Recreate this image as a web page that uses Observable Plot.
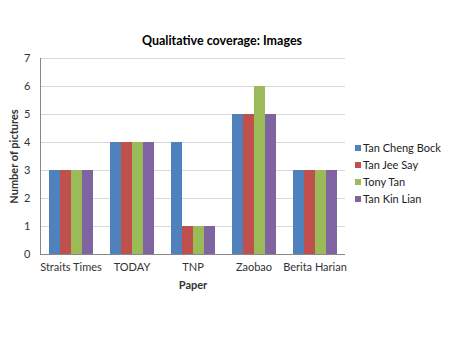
<!DOCTYPE html>
<html>
<head>
<meta charset="utf-8">
<script src="https://cdn.jsdelivr.net/npm/d3@7"></script>
<script src="https://cdn.jsdelivr.net/npm/@observablehq/plot@0.6"></script>
<style>
  body { margin: 0; background: #fff; font-family: Lato, "Open Sans", sans-serif; }
  #wrap { position: relative; width: 450px; height: 337px; overflow: hidden; }
  #title { position: absolute; top: 33px; left: 0; width: 444px; text-align: center; font-weight: bold; font-size: 12.5px; color: #000; }
  #chart { position: absolute; top: 50px; left: 0; }
  #legend { position: absolute; left: 355px; top: 139px; font-size: 11px; color: #222; }
  #legend .row { display: flex; align-items: center; height: 17px; }
  #legend .sw { width: 6px; height: 6px; margin-right: 2px; }
  svg text { font-family: Lato, "Open Sans", sans-serif; }
  g[aria-label="y-axis label"] text, g[aria-label="fx-axis label"] text { font-weight: bold; font-size: 11px; }
</style>
</head>
<body>
<div id="wrap">
  <div id="title">Qualitative coverage: Images</div>
  <div id="chart"></div>
  <div id="legend"></div>
</div>
<script>
const papers = ["Straits Times", "TODAY", "TNP", "Zaobao", "Berita Harian"];
const candidates = ["Tan Cheng Bock", "Tan Jee Say", "Tony Tan", "Tan Kin Lian"];
const tanChengBock = [3, 4, 4, 5, 3];
const tanJeeSay = [3, 4, 1, 5, 3];
const tonyTan = [3, 4, 1, 6, 3];
const tanKinLian = [3, 4, 1, 5, 3];
const yTicks = [0, 1, 2, 3, 4, 5, 6, 7];
const colors = ["#4F81BD", "#C0504D", "#9BBB59", "#8064A2"];

const series = [tanChengBock, tanJeeSay, tonyTan, tanKinLian];
const data = [];
papers.forEach((p, i) => candidates.forEach((c, j) => data.push({paper: p, candidate: c, value: series[j][i]})));

const chart = Plot.plot({
  width: 450,
  height: 244,
  marginTop: 8,
  marginLeft: 40,
  marginRight: 105,
  marginBottom: 40,
  style: {fontSize: "11px", color: "#333"},
  fx: {domain: papers, padding: 0, label: "Paper"},
  x: {domain: candidates, axis: null, paddingInner: 0, paddingOuter: 0.7727},
  y: {domain: [0, 7], label: "Number of pictures"},
  color: {domain: candidates, range: colors},
  marks: [
    Plot.gridY(yTicks, {stroke: "#d9d9d9", strokeOpacity: 1}),
    Plot.barY(data, {fx: "paper", x: "candidate", y: "value", fill: "candidate"}),
    Plot.ruleY([0], {stroke: "#888"}),
    Plot.frame({anchor: "left", facetAnchor: "left", stroke: "#888"}),
    Plot.axisY({ticks: yTicks, tickFormat: "d", tickSize: 0, tickPadding: 10, label: "Number of pictures", labelAnchor: "center", labelArrow: "none", labelOffset: 30}),
    Plot.axisFx({anchor: "bottom", tickSize: 0, tickPadding: 9, label: "Paper", labelAnchor: "center", labelOffset: 34})
  ]
});
document.getElementById("chart").appendChild(chart);

const legend = document.getElementById("legend");
candidates.forEach((c, j) => {
  const row = document.createElement("div");
  row.className = "row";
  row.innerHTML = `<div class="sw" style="background:${colors[j]}"></div><span>${c}</span>`;
  legend.appendChild(row);
});
</script>
</body>
</html>
